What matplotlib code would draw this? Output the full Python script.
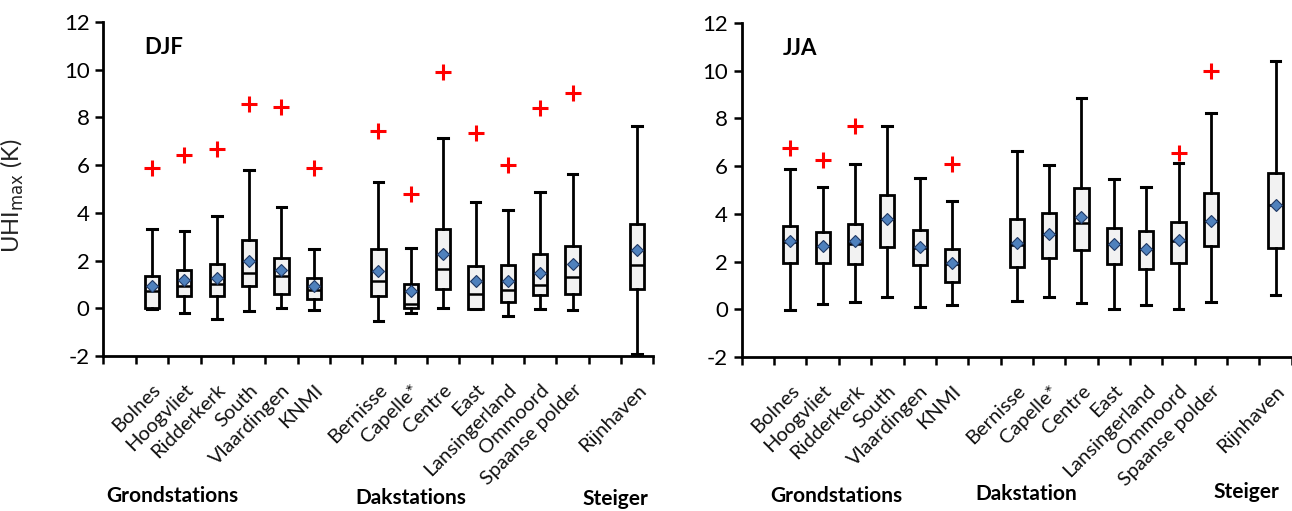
import numpy as np
import matplotlib
matplotlib.use("Agg")
import matplotlib.pyplot as plt

plt.rcParams['font.family'] = ['Lato', 'DejaVu Sans']
plt.rcParams['axes.unicode_minus'] = False

# categories (blank slots separate the station groups)
stations = ["", "Bolnes", "Hoogvliet", "Ridderkerk", "South", "Vlaardingen", "KNMI",
            "", "Bernisse", "Capelle*", "Centre", "East", "Lansingerland", "Ommoord",
            "Spaanse polder", "", "Rijnhaven"]
box_pos = [1, 2, 3, 4, 5, 6, 8, 9, 10, 11, 12, 13, 14, 16]

# DJF values (per box: whislo, q1, med, mean, q3, whishi, outlier)
djf_whislo = [-0.05, -0.2, -0.43, -0.11, 0.03, -0.08, -0.53, -0.2, 0.01, -0.05, -0.31, -0.04, -0.08, -1.9]
djf_q1 = [0.0, 0.5, 0.53, 0.92, 0.61, 0.41, 0.51, 0.03, 0.82, -0.01, 0.26, 0.56, 0.61, 0.81]
djf_med = [0.71, 0.92, 1.02, 1.48, 1.37, 0.78, 1.13, 0.2, 1.65, 0.61, 0.75, 0.96, 1.31, 1.83]
djf_mean = [0.92, 1.2, 1.28, 2.0, 1.62, 0.92, 1.56, 0.71, 2.29, 1.16, 1.16, 1.48, 1.87, 2.46]
djf_q3 = [1.34, 1.59, 1.84, 2.87, 2.1, 1.27, 2.47, 1.02, 3.33, 1.77, 1.81, 2.29, 2.61, 3.54]
djf_whishi = [3.31, 3.26, 3.86, 5.8, 4.24, 2.48, 5.31, 2.54, 7.14, 4.46, 4.1, 4.87, 5.64, 7.64]
djf_out = [5.87, 6.44, 6.68, 8.56, 8.42, 5.87, 7.42, 4.8, 9.92, 7.34, 6.0, 8.38, 9.02, None]

# JJA values
jja_whislo = [-0.04, 0.24, 0.31, 0.53, 0.11, 0.17, 0.35, 0.53, 0.28, 0.03, 0.17, 0.03, 0.31, 0.6]
jja_q1 = [1.95, 1.94, 1.88, 2.61, 1.84, 1.14, 1.79, 2.16, 2.48, 1.88, 1.7, 1.94, 2.64, 2.56]
jja_med = [2.8, 2.65, 2.75, 3.77, 2.58, 1.88, 2.68, 3.14, 3.6, 2.72, 2.54, 2.86, 3.69, 4.35]
jja_mean = [2.86, 2.65, 2.86, 3.79, 2.61, 1.92, 2.79, 3.14, 3.88, 2.75, 2.54, 2.89, 3.69, 4.39]
jja_q3 = [3.51, 3.25, 3.59, 4.77, 3.32, 2.54, 3.77, 4.02, 5.08, 3.4, 3.29, 3.65, 4.87, 5.72]
jja_whishi = [5.86, 5.13, 6.07, 7.7, 5.49, 4.55, 6.62, 6.05, 8.86, 5.48, 5.12, 6.14, 8.21, 10.42]
jja_out = [6.77, 6.25, 7.7, None, None, 6.1, None, None, None, None, None, 6.56, 9.97, None]

group_labels = ["Grondstations", "Dakstations", "Steiger"]
group_labels_jja = ["Grondstations", "Dakstation", "Steiger"]


def make_stats(whislo, q1, med, mean, q3, whishi, out):
    stats = []
    for i in range(len(med)):
        stats.append(dict(whislo=whislo[i], q1=q1[i], med=med[i], mean=mean[i],
                          q3=q3[i], whishi=whishi[i],
                          fliers=[] if out[i] is None else [out[i]]))
    return stats


def draw_panel(ax, stats, title):
    ax.bxp(stats, positions=box_pos, widths=0.44, capwidths=0.3,
           showmeans=True, patch_artist=True,
           boxprops=dict(facecolor='#f2f2f2', edgecolor='black', linewidth=2.0),
           medianprops=dict(color='black', linewidth=1.8),
           whiskerprops=dict(color='black', linewidth=2.0),
           capprops=dict(color='black', linewidth=2.2),
           meanprops=dict(marker='D', markerfacecolor='#4f81bd', markeredgecolor='#1f3864',
                          markersize=6.5, markeredgewidth=0.8),
           flierprops=dict(marker='+', markeredgecolor='red', markersize=11, markeredgewidth=2.2))
    ax.set_xlim(-0.5, len(stations) - 0.5)
    ax.set_ylim(-2, 12)
    ax.set_yticks(np.arange(-2, 13, 2))
    ax.set_xticks(np.arange(-0.5, len(stations), 1.0))
    ax.set_xticklabels([])
    ax.set_xticks(np.arange(len(stations)), minor=True)
    ax.set_xticklabels(stations, minor=True, rotation=45, ha='right',
                       rotation_mode='anchor', fontsize=14.5, color='#111111')
    ax.tick_params(axis='x', which='minor', length=0, pad=18)
    ax.tick_params(axis='x', which='major', length=6, width=1.8, direction='out')
    ax.tick_params(axis='y', length=6, width=1.8, labelsize=16, pad=4)
    for s in ['top', 'right']:
        ax.spines[s].set_visible(False)
    for s in ['left', 'bottom']:
        ax.spines[s].set_linewidth(2.0)
    ax.text(0.075, 0.925, title, transform=ax.transAxes, fontsize=16,
            fontweight='bold', va='center', ha='left')


fig = plt.figure(figsize=(12.92, 5.11), dpi=100)
ax1 = fig.add_axes([0.0801, 0.3033, 0.4257, 0.6536])
ax2 = fig.add_axes([0.5741, 0.3014, 0.4257, 0.6536])

draw_panel(ax1, make_stats(djf_whislo, djf_q1, djf_med, djf_mean, djf_q3, djf_whishi, djf_out), "DJF")
draw_panel(ax2, make_stats(jja_whislo, jja_q1, jja_med, jja_mean, jja_q3, jja_whishi, jja_out), "JJA")

ax1.set_ylabel("UHI$_{\\mathrm{max}}$ (K)", fontsize=17, color='#222222')
ax1.yaxis.set_label_coords(-0.14, 0.48)

# group labels under the tick labels
for x, y, t in zip([106, 355, 582], [502, 504, 505], group_labels):
    fig.text(x / 1292, 1 - y / 511, t, fontsize=15, fontweight='bold', ha='left', va='baseline')
for x, y, t in zip([770, 975, 1213], [502, 500, 498], group_labels_jja):
    fig.text(x / 1292, 1 - y / 511, t, fontsize=15, fontweight='bold', ha='left', va='baseline')

fig.savefig("out.png", dpi=100)
